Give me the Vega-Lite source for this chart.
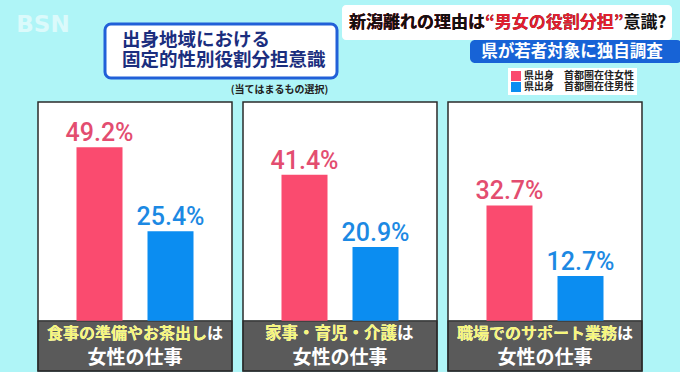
{
  "$schema": "https://vega.github.io/schema/vega-lite/v6.json",
  "background": "#aff5f7",
  "padding": 0,
  "spacing": 1,
  "config": {"view": {"stroke": null}, "font": "Noto Sans CJK JP", "concat": {"spacing": 0}},
  "datasets": {
    "bars": [
      {"category": "食事の準備やお茶出し", "series": "県出身　首都圏在住女性", "value": 49.2},
      {"category": "食事の準備やお茶出し", "series": "県出身　首都圏在住男性", "value": 25.4},
      {"category": "家事・育児・介護", "series": "県出身　首都圏在住女性", "value": 41.4},
      {"category": "家事・育児・介護", "series": "県出身　首都圏在住男性", "value": 20.9},
      {"category": "職場でのサポート業務", "series": "県出身　首都圏在住女性", "value": 32.7},
      {"category": "職場でのサポート業務", "series": "県出身　首都圏在住男性", "value": 12.7}
    ],
    "series": [
      {"series": "県出身　首都圏在住女性"},
      {"series": "県出身　首都圏在住男性"}
    ],
    "panels": [
      {"category": "食事の準備やお茶出し", "line1": "食事の準備やお茶出しは", "line1y": "食事の準備やお茶出し", "line2": "女性の仕事"},
      {"category": "家事・育児・介護", "line1": "家事・育児・介護は", "line1y": "家事・育児・介護", "line2": "女性の仕事"},
      {"category": "職場でのサポート業務", "line1": "職場でのサポート業務は", "line1y": "職場でのサポート業務", "line2": "女性の仕事"}
    ]
  },
  "vconcat": [
    {
      "spacing": 0,
      "hconcat": [
        {
          "spacing": 0,
          "vconcat": [
            {"width": 103, "height": 13, "data": {"values": [{}]}, "mark": {"type": "rect", "opacity": 0}},
            {
              "spacing": 0,
              "hconcat": [
                {"width": 13, "height": 24, "data": {"values": [{}]}, "mark": {"type": "rect", "opacity": 0}},
                {"width": 60, "height": 24, "data": {"values": [{}]},
                 "mark": {"type": "text", "font": "DejaVu Sans", "fontSize": 23, "fontWeight": "bold", "color": "white", "opacity": 0.55},
                 "encoding": {"text": {"value": "BSN"}}}
              ]
            }
          ]
        },
        {
          "spacing": 0,
          "vconcat": [
            {"width": 237, "height": 22, "data": {"values": [{}]}, "mark": {"type": "rect", "opacity": 0}},
            {"width": 232, "height": 54,
             "view": {"fill": "white", "stroke": "#2160d8", "strokeWidth": 3, "cornerRadius": 6},
             "data": {"values": [{}]},
             "layer": [
               {"mark": {"type": "text", "fontSize": 18.5, "fontWeight": "bold", "color": "#1b2e7e", "align": "left", "dx": -99, "dy": -11},
                "encoding": {"text": {"value": "出身地域における"}}},
               {"mark": {"type": "text", "fontSize": 18.5, "fontWeight": "bold", "color": "#1b2e7e", "align": "left", "dx": -99, "dy": 9},
                "encoding": {"text": {"value": "固定的性別役割分担意識"}}}
             ]},
            {
              "spacing": 0,
              "hconcat": [
                {"width": 122, "height": 20, "data": {"values": [{}]}, "mark": {"type": "rect", "opacity": 0}},
                {"width": 105, "height": 20, "data": {"values": [{}]},
                 "mark": {"type": "text", "fontSize": 10, "fontWeight": "bold", "color": "#222222"},
                 "encoding": {"text": {"value": "(当てはまるもの選択)"}}}
              ]
            }
          ]
        },
        {
          "spacing": 0,
          "vconcat": [
            {"width": 340, "height": 5, "data": {"values": [{}]}, "mark": {"type": "rect", "opacity": 0}},
            {"width": 330, "height": 35,
             "view": {"fill": "white", "cornerRadius": 4},
             "data": {"values": [{}]},
             "layer": [
               {"mark": {"type": "text", "fontSize": 17, "fontWeight": "bold", "color": "#111111", "align": "left", "dx": -158},
                "encoding": {"text": {"value": "新潟離れの理由は“男女の役割分担”意識?"}}},
               {"mark": {"type": "text", "fontSize": 17, "fontWeight": "bold", "color": "#e41f2f", "align": "left", "dx": -158},
                "encoding": {"text": {"value": "新潟離れの理由は“男女の役割分担”"}}},
               {"mark": {"type": "text", "fontSize": 17, "fontWeight": "bold", "color": "#111111", "align": "left", "dx": -158},
                "encoding": {"text": {"value": "新潟離れの理由は"}}}
             ]},
            {
              "spacing": 0,
              "hconcat": [
                {"width": 128, "height": 23, "data": {"values": [{}]}, "mark": {"type": "rect", "opacity": 0}},
                {"width": 212, "height": 23,
                 "view": {"fill": "#1763d6", "cornerRadius": 5},
                 "data": {"values": [{}]},
                 "mark": {"type": "text", "fontSize": 16.5, "fontWeight": "bold", "color": "white", "dx": -4},
                 "encoding": {"text": {"value": "県が若者対象に独自調査"}}}
              ]
            },
            {"width": 340, "height": 6, "data": {"values": [{}]}, "mark": {"type": "rect", "opacity": 0}},
            {"width": 20, "height": 20,
             "data": {"name": "series"},
             "mark": {"type": "square", "opacity": 0},
             "encoding": {
               "size": {"value": 0},
               "color": {"field": "series", "type": "nominal",
                         "scale": {"domain": ["県出身　首都圏在住女性", "県出身　首都圏在住男性"], "range": ["#fa4b6f", "#0b8df1"]},
                         "legend": {"orient": "none", "legendX": 508, "legendY": 68, "title": null,
                                    "fillColor": "white", "padding": 3, "symbolType": "square", "symbolSize": 100,
                                    "symbolStrokeWidth": 0, "symbolOpacity": 1, "labelFontSize": 10, "labelFontWeight": "bold",
                                    "labelColor": "#222222", "rowPadding": 1, "labelOffset": 3}}
             }}
          ]
        }
      ]
    },
    {
      "width": 680,
      "height": 269,
      "encoding": {
        "x": {"field": "category", "type": "nominal", "axis": null,
              "sort": ["食事の準備やお茶出し", "家事・育児・介護", "職場でのサポート業務"],
              "scale": {"paddingInner": 0.0537, "paddingOuter": 0.1854}}
      },
      "layer": [
        {
          "data": {"name": "panels"},
          "mark": {"type": "bar", "fill": "white"},
          "encoding": {
            "y": {"datum": 62, "type": "quantitative", "axis": null, "scale": {"domain": [-14.2, 62], "nice": false, "zero": false}},
            "y2": {"datum": 0}
          }
        },
        {
          "data": {"name": "panels"},
          "mark": {"type": "bar", "fill": "#5a5a5a", "stroke": "#2b2b2b", "strokeWidth": 1.2},
          "encoding": {
            "y": {"datum": 0, "type": "quantitative"},
            "y2": {"datum": -14.2}
          }
        },
        {
          "data": {"name": "bars"},
          "mark": {"type": "bar"},
          "encoding": {
            "xOffset": {"field": "series", "type": "nominal",
                        "sort": ["県出身　首都圏在住女性", "県出身　首都圏在住男性"],
                        "scale": {"paddingInner": 0.352, "paddingOuter": 0.542}},
            "y": {"field": "value", "type": "quantitative"},
            "color": {"field": "series", "type": "nominal",
                      "scale": {"domain": ["県出身　首都圏在住女性", "県出身　首都圏在住男性"], "range": ["#fa4b6f", "#0b8df1"]},
                      "legend": null}
          }
        },
        {
          "data": {"name": "bars"},
          "transform": [{"calculate": "format(datum.value, '.1f') + '%'", "as": "label"}],
          "mark": {"type": "text", "baseline": "alphabetic", "dy": -6, "fontSize": 25, "font": "Roboto", "fontWeight": 500},
          "encoding": {
            "xOffset": {"field": "series", "type": "nominal",
                        "sort": ["県出身　首都圏在住女性", "県出身　首都圏在住男性"]},
            "y": {"field": "value", "type": "quantitative"},
            "text": {"field": "label"},
            "color": {"condition": {"test": "datum.series === '県出身　首都圏在住女性'", "value": "#e34d70"}, "value": "#1c89e3"}
          }
        },
        {
          "data": {"name": "panels"},
          "transform": [{"filter": {"field": "category", "oneOf": ["食事の準備やお茶出し", "職場でのサポート業務"]}}],
          "mark": {"type": "text", "fontSize": 16, "fontWeight": "bold", "color": "white", "align": "left", "dx": -88},
          "encoding": {"y": {"datum": -3.6, "type": "quantitative"}, "text": {"field": "line1"}}
        },
        {
          "data": {"name": "panels"},
          "transform": [{"filter": {"field": "category", "oneOf": ["食事の準備やお茶出し", "職場でのサポート業務"]}}],
          "mark": {"type": "text", "fontSize": 16, "fontWeight": "bold", "color": "#f6f67a", "align": "left", "dx": -88},
          "encoding": {"y": {"datum": -3.6, "type": "quantitative"}, "text": {"field": "line1y"}}
        },
        {
          "data": {"name": "panels"},
          "transform": [{"filter": {"field": "category", "equal": "家事・育児・介護"}}],
          "mark": {"type": "text", "fontSize": 16.5, "fontWeight": "bold", "color": "white", "align": "left", "dx": -75},
          "encoding": {"y": {"datum": -3.6, "type": "quantitative"}, "text": {"field": "line1"}}
        },
        {
          "data": {"name": "panels"},
          "transform": [{"filter": {"field": "category", "equal": "家事・育児・介護"}}],
          "mark": {"type": "text", "fontSize": 16.5, "fontWeight": "bold", "color": "#f6f67a", "align": "left", "dx": -75},
          "encoding": {"y": {"datum": -3.6, "type": "quantitative"}, "text": {"field": "line1y"}}
        },
        {
          "data": {"name": "panels"},
          "mark": {"type": "text", "fontSize": 19, "fontWeight": "bold", "color": "white"},
          "encoding": {"y": {"datum": -10.5, "type": "quantitative"}, "text": {"field": "line2"}}
        },
        {
          "data": {"name": "panels"},
          "mark": {"type": "bar", "fill": null, "fillOpacity": 0, "stroke": "#2b2b2b", "strokeWidth": 1.5},
          "encoding": {
            "y": {"datum": 62, "type": "quantitative"},
            "y2": {"datum": -14.2}
          }
        }
      ]
    }
  ]
}
